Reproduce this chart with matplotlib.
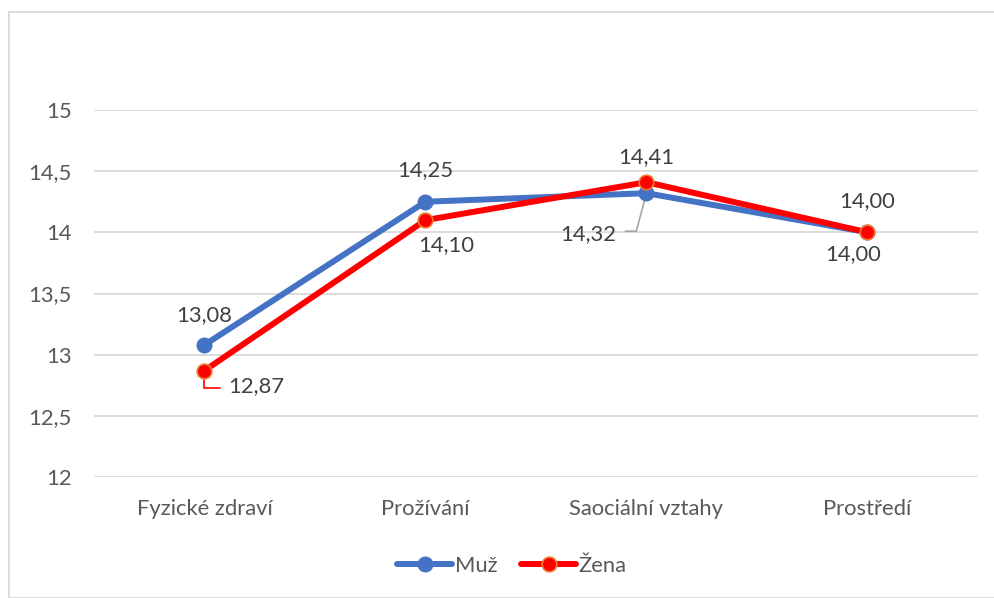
import matplotlib
matplotlib.use("Agg")
import matplotlib.pyplot as plt
from matplotlib.patches import Rectangle
from matplotlib.lines import Line2D

plt.rcParams['font.family'] = ['Lato', 'DejaVu Sans']

categories = ["Fyzické zdraví", "Prožívání", "Saociální vztahy", "Prostředí"]
muz = [13.08, 14.25, 14.32, 14.00]
zena = [12.87, 14.10, 14.41, 14.00]
y_ticks = [12, 12.5, 13, 13.5, 14, 14.5, 15]
y_tick_labels = ["12", "12,5", "13", "13,5", "14", "14,5", "15"]

BLUE = "#4472C4"
RED = "#FF0000"
ORANGE = "#ED7D31"
GRID = "#D9D9D9"
TEXT = "#595959"
LABEL = "#404040"
FS = 15.8

W, H = 995, 598
fig = plt.figure(figsize=(W / 100, H / 100), dpi=100)

# chart frame
fig.patches.append(Rectangle((9 / W, 0), 1.0, 1 - 12 / H, transform=fig.transFigure,
                             fill=False, edgecolor=GRID, linewidth=1.3, zorder=0))

ax = fig.add_axes([94 / W, 1 - 477 / H, (978 - 94) / W, (477 - 110) / H])
x = list(range(len(categories)))

ax.set_xlim(-0.5, len(categories) - 0.5)
ax.set_ylim(12, 15)
ax.set_yticks(y_ticks)
ax.set_yticklabels(y_tick_labels)
ax.set_xticks(x)
ax.set_xticklabels(categories)
ax.tick_params(axis='both', length=0, labelsize=FS, labelcolor=TEXT)
ax.tick_params(axis='y', pad=16)
ax.tick_params(axis='x', pad=16)
for s in ax.spines.values():
    s.set_visible(False)
ax.grid(axis='y', color=GRID, linewidth=1.3)
ax.set_axisbelow(True)

ax.plot(x, muz, color=BLUE, linewidth=4.3, marker='o', markersize=10.5,
        markerfacecolor=BLUE, markeredgecolor=BLUE, solid_capstyle='round',
        clip_on=False, zorder=3, label="Muž")
ax.plot(x, zena, color=RED, linewidth=4.3, marker='o', markersize=10.5,
        markerfacecolor=RED, markeredgecolor=ORANGE, markeredgewidth=1.2,
        solid_capstyle='round', clip_on=False, zorder=4, label="Žena")


def fmt(v):
    return f"{v:.2f}".replace(".", ",")


def label(xi, v, dx, dy):
    ax.annotate(fmt(v), (xi, v), xytext=(dx, -dy), textcoords='offset pixels',
                ha='center', va='center', fontsize=FS, color=LABEL, zorder=5)


# Muž labels (pixel offsets: dx right, dy down)
label(0, muz[0], 0, -30)
label(1, muz[1], 0, -32)
label(3, muz[3], 0, -31)
# Žena labels
label(1, zena[1], 21, 25)
label(2, zena[2], 0, -25)
label(3, zena[3], -14, 22)

# labels with leader lines
ax.annotate(fmt(zena[0]), (0, zena[0]), xytext=(52, -16), textcoords='offset pixels',
            ha='center', va='center', fontsize=FS, color=LABEL, zorder=5)
ax.annotate("", xy=(0, zena[0]), xytext=(16, -17), textcoords='offset pixels',
            arrowprops=dict(arrowstyle='-', color=RED, linewidth=1.2,
                            connectionstyle='angle,angleA=0,angleB=90,rad=0',
                            shrinkA=0, shrinkB=6), zorder=2)
ax.annotate(fmt(muz[2]), (2, muz[2]), xytext=(-58, -41), textcoords='offset pixels',
            ha='center', va='center', fontsize=FS, color=LABEL, zorder=5)
ax.annotate("", xy=(2, muz[2]), xytext=(-21, -38), textcoords='offset pixels',
            arrowprops=dict(arrowstyle='-', color="#A6A6A6", linewidth=1.2,
                            connectionstyle='angle,angleA=0,angleB=75,rad=0',
                            shrinkA=0, shrinkB=6), zorder=2)

handles = [
    Line2D([], [], color=BLUE, linewidth=4.3, marker='o', markersize=10.5,
           markerfacecolor=BLUE, markeredgecolor=BLUE, solid_capstyle='round'),
    Line2D([], [], color=RED, linewidth=4.3, marker='o', markersize=10.5,
           markerfacecolor=RED, markeredgecolor=ORANGE, markeredgewidth=1.2,
           solid_capstyle='round'),
]
leg = fig.legend(handles, ["Muž", "Žena"], loc='center', bbox_to_anchor=(512 / W, 1 - 566 / H),
                 ncol=2, frameon=False, fontsize=FS, handlelength=2.5, handletextpad=0.12,
                 columnspacing=1.1, labelcolor=TEXT)

fig.savefig("out.png", dpi=100)
